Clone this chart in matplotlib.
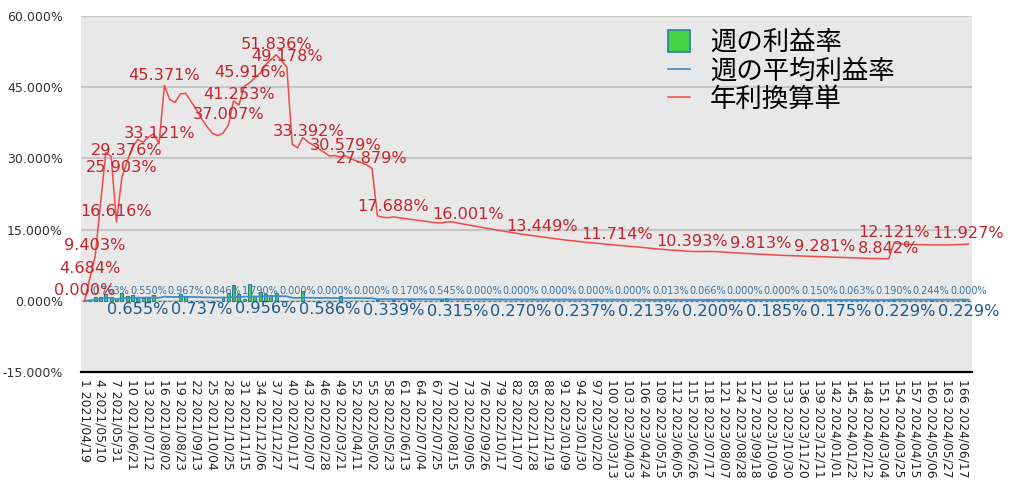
import matplotlib
matplotlib.use('Agg')
import matplotlib.pyplot as plt
from matplotlib.patches import Patch
from matplotlib.lines import Line2D

# ---------------- data ----------------
annual_rate = [
    0.000, 4.684, 9.403, 20.5, 31.2, 30.4, 16.616, 25.903, 29.376, 32.3,
    34.0, 33.4, 34.5, 35.2, 33.121, 45.371, 42.4, 41.8, 43.6, 43.7,
    42.0, 40.3, 38.3, 36.7, 35.3, 34.8, 35.3, 37.007, 42.1, 41.253,
    45.2, 45.916, 47.0, 48.0, 49.7, 50.8, 51.836, 50.6, 49.178, 33.0,
    32.2, 34.4, 33.392, 32.8, 32.0, 31.3, 30.5, 30.6, 30.3, 30.579,
    29.9, 29.5, 29.1, 28.6, 27.879, 17.9, 17.6, 17.5, 17.688, 17.5,
    17.35, 17.2, 17.05, 16.9, 16.75, 16.6, 16.45, 16.4, 16.6, 16.65,
    16.4, 16.2, 16.001, 15.8, 15.6, 15.4, 15.2, 15.0, 14.8, 14.6,
    14.45, 14.25, 14.04, 13.9, 13.75, 13.6, 13.449, 13.3, 13.15, 13.0,
    12.85, 12.72, 12.6, 12.48, 12.35, 12.25, 12.15, 12.03, 11.92, 11.82,
    11.714, 11.62, 11.52, 11.42, 11.32, 11.2, 11.08, 10.98, 10.88, 10.79,
    10.7, 10.62, 10.54, 10.46, 10.393, 10.38, 10.4, 10.4, 10.39, 10.32,
    10.25, 10.18, 10.12, 10.05, 9.99, 9.93, 9.87, 9.813, 9.76, 9.69,
    9.63, 9.58, 9.54, 9.5, 9.46, 9.42, 9.38, 9.35, 9.31, 9.281,
    9.24, 9.18, 9.12, 9.08, 9.04, 9.0, 8.97, 8.94, 8.91, 8.89,
    8.86, 8.842, 12.121, 12.05, 11.92, 11.88, 11.84, 11.82, 11.8, 11.78,
    11.77, 11.77, 11.78, 11.8, 11.84, 11.88, 11.927,
]

avg_rate = [
    0.000, 0.090, 0.181, 0.394, 0.600, 0.585, 0.320, 0.498, 0.565, 0.621,
    0.655, 0.642, 0.663, 0.677, 0.637, 0.873, 0.815, 0.804, 0.838, 0.840,
    0.808, 0.775, 0.737, 0.706, 0.679, 0.669, 0.679, 0.712, 0.810, 0.793,
    0.869, 0.883, 0.904, 0.923, 0.956, 0.977, 0.997, 0.973, 0.946, 0.635,
    0.619, 0.662, 0.642, 0.631, 0.615, 0.602, 0.586, 0.588, 0.583, 0.588,
    0.575, 0.567, 0.560, 0.550, 0.536, 0.344, 0.338, 0.337, 0.339, 0.337,
    0.334, 0.331, 0.328, 0.325, 0.322, 0.319, 0.316, 0.315, 0.319, 0.320,
    0.315, 0.312, 0.308, 0.304, 0.300, 0.296, 0.292, 0.288, 0.285, 0.281,
    0.278, 0.274, 0.270, 0.267, 0.264, 0.262, 0.259, 0.256, 0.253, 0.250,
    0.247, 0.245, 0.242, 0.240, 0.237, 0.236, 0.234, 0.231, 0.229, 0.227,
    0.225, 0.223, 0.222, 0.220, 0.218, 0.215, 0.213, 0.211, 0.209, 0.208,
    0.206, 0.204, 0.203, 0.201, 0.200, 0.200, 0.200, 0.200, 0.200, 0.198,
    0.197, 0.196, 0.195, 0.193, 0.192, 0.191, 0.190, 0.189, 0.188, 0.186,
    0.185, 0.184, 0.183, 0.183, 0.182, 0.181, 0.180, 0.180, 0.179, 0.178,
    0.178, 0.177, 0.175, 0.175, 0.174, 0.173, 0.173, 0.172, 0.171, 0.171,
    0.170, 0.170, 0.233, 0.232, 0.229, 0.228, 0.228, 0.227, 0.227, 0.227,
    0.226, 0.226, 0.227, 0.227, 0.228, 0.229, 0.229,
]

weekly_rate = [
    0, 0, 0.7, 0.9, 1.4, 0.763, 0.3, 1.7, 1.0, 1.2,
    0.6, 0.5, 0.55, 1.2, 0, 0, 0, 0, 1.4, 0.967,
    0, 0, 0, 0, 0, 0, 0.846, 1.6, 3.3, 1.4,
    0.4, 3.5, 1.0, 1.79, 1.5, 1.2, 1.7, 0, 0, 0,
    0, 2.1, 0, 0, 0, 0, 0, 0, 1.0, 0,
    0, 0, 0, 0, 0, 0.2, 0, 0, 0.2, 0,
    0, 0.17, 0, 0, 0, 0, 0, 0.2, 0.545, 0,
    0, 0, 0, 0, 0, 0, 0, 0, 0, 0,
    0, 0, 0, 0, 0, 0, 0, 0, 0, 0,
    0, 0, 0, 0, 0, 0, 0, 0, 0, 0,
    0, 0, 0, 0, 0, 0, 0, 0, 0, 0,
    0.013, 0, 0, 0, 0, 0, 0, 0.066, 0, 0,
    0, 0, 0, 0, 0, 0, 0, 0, 0, 0,
    0, 0, 0, 0, 0, 0, 0, 0, 0.15, 0,
    0, 0, 0, 0, 0, 0.063, 0, 0, 0, 0,
    0, 0, 0.19, 0, 0, 0, 0, 0, 0, 0.244,
    0, 0, 0, 0, 0, 0.3, 0,
]

tick_labels = [
    "1 2021/04/19", "4 2021/05/10", "7 2021/05/31", "10 2021/06/21", "13 2021/07/12",
    "16 2021/08/02", "19 2021/08/23", "22 2021/09/13", "25 2021/10/04", "28 2021/10/25",
    "31 2021/11/15", "34 2021/12/06", "37 2021/12/27", "40 2022/01/17", "43 2022/02/07",
    "46 2022/02/28", "49 2022/03/21", "52 2022/04/11", "55 2022/05/02", "58 2022/05/23",
    "61 2022/06/13", "64 2022/07/04", "67 2022/07/25", "70 2022/08/15", "73 2022/09/05",
    "76 2022/09/26", "79 2022/10/17", "82 2022/11/07", "85 2022/11/28", "88 2022/12/19",
    "91 2023/01/09", "94 2023/01/30", "97 2023/02/20", "100 2023/03/13", "103 2023/04/03",
    "106 2023/04/24", "109 2023/05/15", "112 2023/06/05", "115 2023/06/26", "118 2023/07/17",
    "121 2023/08/07", "124 2023/08/28", "127 2023/09/18", "130 2023/10/09", "133 2023/10/30",
    "136 2023/11/20", "139 2023/12/11", "142 2024/01/01", "145 2024/01/22", "148 2024/02/12",
    "151 2024/03/04", "154 2024/03/25", "157 2024/04/15", "160 2024/05/06", "163 2024/05/27",
    "166 2024/06/17",
]

annual_label_idx = [0, 1, 2, 6, 7, 8, 14, 15, 27, 29, 31, 36, 38, 42, 49, 54, 58,
                    72, 86, 100, 114, 127, 139, 151, 152, 166]
avg_label_idx = [10, 22, 34, 46, 58, 70, 82, 94, 106, 118, 130, 142, 154, 166]
weekly_label_idx = [5, 12, 19, 26, 33, 40, 47, 54, 61, 68, 75, 82, 89, 96, 103,
                    110, 117, 124, 131, 138, 145, 152, 159, 166]

legend_labels = ["週の利益率", "週の平均利益率", "年利換算単"]

# ---------------- style ----------------
GREEN = '#46d446'
BAR_EDGE = '#2a7ea6'
BLUE = '#3d8cc9'
RED = '#f24848'
RED_TXT = '#c3252b'
BLUE_TXT = '#1e5a8a'
SMALL_TXT = '#3a76a6'

fig = plt.figure(figsize=(10.24, 4.98), dpi=100)
ax = fig.add_axes([81 / 1024, 1 - 372 / 498, 891 / 1024, 356 / 498])
ax.set_facecolor('#e8e8e8')

x = list(range(len(annual_rate)))

ax.bar(x, weekly_rate, width=0.55, color=GREEN, edgecolor=BAR_EDGE, linewidth=0.8, zorder=3)
ax.plot(x, avg_rate, color=BLUE, lw=1.3, zorder=4)
ax.plot(x, annual_rate, color=RED, lw=1.1, zorder=5)

ax.set_xlim(-0.66, len(x) - 1 + 0.66)
ax.set_ylim(-15, 60)
yt = [-15, 0, 15, 30, 45, 60]
ax.set_yticks(yt)
ax.set_yticklabels([f"{v:.3f}%" for v in yt], fontsize=9, color='#333333')
ax.tick_params(axis='y', length=0, pad=13)

ax.set_xticks(list(range(0, len(x), 3)))
ax.set_xticklabels(tick_labels, rotation=-90, fontsize=8.9, color='#222222', va='top', ha='center')
ax.tick_params(axis='x', length=0, pad=5)

ax.yaxis.grid(True, color='#c6c6c6', lw=1.5)
ax.set_axisbelow(True)
for s in ['left', 'right', 'top']:
    ax.spines[s].set_visible(False)
ax.spines['bottom'].set_color('black')
ax.spines['bottom'].set_linewidth(1.6)

for i in annual_label_idx:
    ax.annotate(f"{annual_rate[i]:.3f}%", (x[i], annual_rate[i]), xytext=(0, 7.5),
                textcoords='offset points', ha='center', va='center',
                fontsize=11.6, color=RED_TXT, zorder=7, annotation_clip=False)

for i in avg_label_idx:
    ax.annotate(f"{avg_rate[i]:.3f}%", (x[i], avg_rate[i]), xytext=(0, -8.5),
                textcoords='offset points', ha='center', va='center',
                fontsize=11.6, color=BLUE_TXT, zorder=7, annotation_clip=False)

for i in weekly_label_idx:
    ax.annotate(f"{weekly_rate[i]:.3f}%", (x[i], 0), xytext=(0, 7),
                textcoords='offset points', ha='center', va='center',
                fontsize=7, color=SMALL_TXT, zorder=6, annotation_clip=False)

handles = [Patch(facecolor=GREEN, edgecolor=BAR_EDGE, linewidth=1.2),
           Line2D([], [], color=BLUE, lw=1.2),
           Line2D([], [], color=RED, lw=1.1)]
ax.legend(handles, legend_labels, loc='upper left',
          bbox_to_anchor=(668 / 1024, 1 - 29 / 498), bbox_transform=fig.transFigure,
          frameon=False, prop={'family': ['Noto Sans CJK JP', 'DejaVu Sans'], 'size': 19},
          handlelength=0.85, handleheight=0.9, handletextpad=0.75,
          labelspacing=0.06, borderpad=0, borderaxespad=0)

fig.savefig('out.png', dpi=100, facecolor='white')
